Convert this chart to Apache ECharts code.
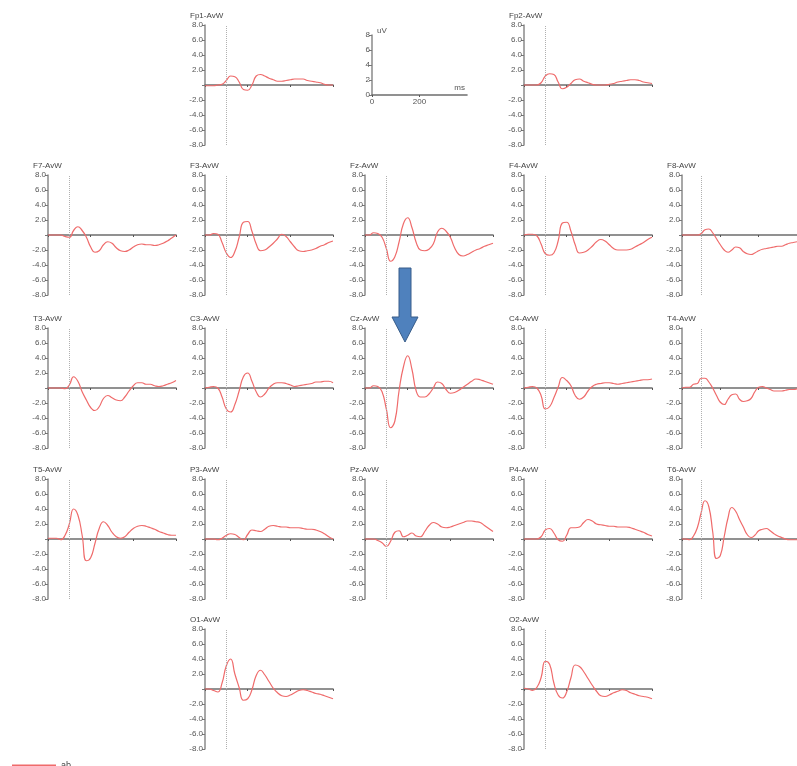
<!DOCTYPE html>
<html>
<head>
<meta charset="utf-8">
<script src="https://cdn.jsdelivr.net/npm/echarts/dist/echarts.min.js"></script>
<style>
html,body{margin:0;padding:0;background:#fff;}
#container{width:797px;height:766px;}
</style>
</head>
<body>
<div id="container"></div>
<script>
// time axis (ms), one value every 20 ms
const times = [-100,-80,-60,-40,-20,0,20,40,60,80,100,120,140,160,180,200,220,240,260,280,300,320,340,360,380,400,420,440,460,480,500];

// amplitudes (uV) per electrode
const fp1 = [-0.1,-0.1,-0.1,0,0.1,0.6,1.2,1.1,0.4,-0.6,-0.7,0,1.2,1.4,1.2,0.9,0.7,0.5,0.5,0.6,0.7,0.8,0.8,0.8,0.6,0.5,0.4,0.3,0.1,0,0];
const fp2 = [0,0,0,0,0.3,1.2,1.5,1.4,0.4,-0.5,-0.3,0.2,0.7,0.8,0.5,0.3,0.1,0,0,0,0.1,0.2,0.4,0.5,0.6,0.7,0.7,0.6,0.4,0.3,0.2];
const f7 = [0,0,0,0,-0.2,-0.3,0.6,1.1,0.6,-0.3,-1.6,-2.3,-2.1,-1.3,-0.9,-1.1,-1.7,-2.1,-2.2,-2.0,-1.6,-1.3,-1.2,-1.3,-1.3,-1.4,-1.3,-1.1,-0.8,-0.4,0];
const f3 = [0,0,0.2,0.1,-1.0,-2.4,-3.0,-2.2,-0.3,1.7,1.8,0.5,-1.2,-2.1,-2.0,-1.6,-1.1,-0.5,0.1,-0.2,-0.9,-1.6,-2.1,-2.2,-2.1,-2.0,-1.8,-1.5,-1.3,-1.0,-0.8];
const fz = [0,0,0.3,0.2,-0.3,-1.8,-3.5,-2.9,-0.9,1.5,2.3,1.0,-1.0,-2.0,-2.1,-1.9,-1.2,0.4,0.9,0.5,-0.3,-1.7,-2.6,-2.8,-2.6,-2.3,-2.0,-1.8,-1.5,-1.3,-1.1];
const f4 = [0,0.1,0.1,-0.1,-1.2,-2.5,-2.7,-2.4,-0.8,1.6,1.7,0.5,-1.3,-2.4,-2.3,-2.0,-1.5,-0.9,-0.6,-0.8,-1.3,-1.8,-2.0,-2.0,-2.0,-1.9,-1.6,-1.3,-1.0,-0.6,-0.3];
const f8 = [0,0,0,0,0,0.2,0.7,0.8,0.3,-0.5,-1.3,-2.0,-2.3,-2.0,-1.6,-1.7,-2.2,-2.5,-2.6,-2.4,-2.1,-1.9,-1.8,-1.7,-1.6,-1.5,-1.5,-1.3,-1.1,-1.0,-0.9];
const t3 = [0,0,0,0,-0.1,0.4,1.5,0.9,-0.5,-1.6,-2.6,-3.0,-2.5,-1.4,-1.0,-1.3,-1.6,-1.7,-1.2,-0.4,0.3,0.7,0.7,0.5,0.5,0.3,0.2,0.3,0.5,0.7,1.0];
const c3 = [0,0.1,0.2,0,-1.2,-2.8,-3.2,-2.2,-0.4,1.5,2.0,0.9,-0.5,-1.2,-0.8,0,0.5,0.7,0.7,0.6,0.4,0.2,0.3,0.4,0.5,0.6,0.8,0.8,0.9,0.9,0.7];
const cz = [0,0,0.3,0.2,-0.5,-2.8,-5.3,-4.4,-0.3,2.8,4.3,2.5,-0.4,-1.2,-1.2,-0.8,0,0.8,0.6,-0.2,-0.7,-0.6,-0.3,0.1,0.5,0.9,1.2,1.1,0.9,0.7,0.5];
const c4 = [0,0.1,0.2,0,-1.0,-2.8,-2.5,-1.3,0.1,1.4,1.0,0.3,-1.0,-1.5,-1.2,-0.4,0.2,0.5,0.6,0.7,0.7,0.6,0.5,0.6,0.7,0.8,0.9,1.0,1.1,1.1,1.2];
const t4 = [0,0.1,0.1,0.5,0.6,1.3,1.3,0.8,0,-1.0,-1.9,-2.2,-1.5,-0.9,-0.8,-1.5,-1.8,-1.7,-1.4,-0.5,0.1,0.2,0,-0.2,-0.4,-0.4,-0.4,-0.3,-0.2,-0.2,-0.1];
const t5 = [0.1,0.1,0.1,-0.1,0.5,2.0,4.0,3.2,0.5,-2.9,-2.5,-0.6,1.4,2.3,1.8,0.9,0.3,0.1,0.3,0.9,1.4,1.7,1.8,1.7,1.5,1.3,1.0,0.8,0.6,0.5,0.5];
const p3 = [0,0,0,-0.1,0.1,0.5,0.7,0.6,0.2,-0.1,0.6,1.2,1.1,1.0,1.3,1.7,1.8,1.7,1.6,1.6,1.5,1.5,1.5,1.4,1.3,1.3,1.2,1.0,0.7,0.3,0];
const pz = [0,0,0,-0.2,-0.5,-1.0,-0.3,0.9,1.1,0.3,0.5,0.8,0.4,0.3,1.0,1.8,2.2,2.0,1.6,1.5,1.6,1.8,2.0,2.2,2.4,2.4,2.3,2.2,1.8,1.4,1.0];
const p4 = [0,0,0,0,0.3,1.2,1.4,0.8,-0.1,-0.3,0.5,1.5,1.5,1.6,2.2,2.6,2.4,2.0,1.9,1.8,1.7,1.7,1.6,1.6,1.6,1.5,1.3,1.1,0.9,0.6,0.4];
const t6 = [0,0,-0.1,0.4,1.5,3.5,5.1,4.3,1.0,-2.6,-2.2,0.3,2.8,4.2,3.7,2.6,1.6,0.6,0.2,0.5,1.1,1.3,1.4,1.1,0.7,0.4,0.2,0,-0.1,-0.1,-0.1];
const o1 = [0,0,-0.2,-0.4,0.8,3.1,4.0,2.0,0.2,-1.5,-1.3,-0.1,1.8,2.5,1.9,1.0,0.1,-0.5,-0.9,-1.0,-0.8,-0.5,-0.2,-0.1,-0.2,-0.4,-0.6,-0.7,-0.9,-1.1,-1.3];
const o2 = [0.1,0,-0.2,0.2,1.5,3.7,3.3,0.8,-0.8,-1.2,-0.4,1.5,3.2,3.0,2.3,1.4,0.5,-0.3,-0.9,-1.0,-0.8,-0.5,-0.3,-0.1,-0.2,-0.5,-0.7,-0.9,-1.0,-1.1,-1.3];

const channels = [
  ['Fp1', fp1], ['Fp2', fp2],
  ['F7', f7], ['F3', f3], ['Fz', fz], ['F4', f4], ['F8', f8],
  ['T3', t3], ['C3', c3], ['Cz', cz], ['C4', c4], ['T4', t4],
  ['T5', t5], ['P3', p3], ['Pz', pz], ['P4', p4], ['T6', t6],
  ['O1', o1], ['O2', o2]
];
const yTicks = [-8, 8, 2];      // min, max, step (uV)
const xTicks = [-100, 500, 200]; // min, max, step (ms)
const scaleY = [0, 8, 2];
const scaleX = [0, 400, 200];
const seriesName = 'ab';

// panel placement (column, row) on the head layout
const place = {
  Fp1:[1,0], Fp2:[3,0],
  F7:[0,1], F3:[1,1], Fz:[2,1], F4:[3,1], F8:[4,1],
  T3:[0,2], C3:[1,2], Cz:[2,2], C4:[3,2], T4:[4,2],
  T5:[0,3], P3:[1,3], Pz:[2,3], P4:[3,3], T6:[4,3],
  O1:[1,4], O2:[3,4]
};
const colX = [48, 205, 365, 524, 682];
const rowY = [25, 175, 328, 479, 629];
const panelW = 128, panelH = 120;
const red = '#ef6b6b';

let grids = [], xAxes = [], yAxes = [], series = [], titles = [];
const labelStyle = {fontSize: 8, color: '#555', fontFamily: 'Liberation Sans, Arial, sans-serif'};

channels.forEach(([name, vals], i) => {
  const [c, r] = place[name];
  grids.push({left: colX[c], top: rowY[r], width: panelW, height: panelH, containLabel: false});
  xAxes.push({
    type: 'value', gridIndex: i, min: xTicks[0], max: xTicks[1], interval: xTicks[2],
    axisLine: {onZero: true, lineStyle: {color: '#6e6e6e', width: 1.6}},
    axisTick: {show: true, length: 2, lineStyle: {color: '#555'}},
    axisLabel: {show: false}, splitLine: {show: false}
  });
  yAxes.push({
    type: 'value', gridIndex: i, min: yTicks[0], max: yTicks[1], interval: yTicks[2],
    axisLine: {show: true, onZero: false, lineStyle: {color: '#8a8a8a', width: 1.5}},
    axisTick: {show: true, length: 3, lineStyle: {color: '#777'}},
    axisLabel: Object.assign({margin: 2, formatter: v => v === 0 ? '' : v.toFixed(1)}, labelStyle),
    splitLine: {show: false}
  });
  titles.push({
    text: name + '-AvW', left: colX[c] - 15, top: rowY[r] - 13, padding: 0,
    textStyle: {fontSize: 8, fontWeight: 'normal', color: '#444', fontFamily: 'Liberation Sans, Arial, sans-serif'}
  });
  series.push({
    name: seriesName, type: 'line', xAxisIndex: i, yAxisIndex: i,
    smooth: 0.5, showSymbol: false, symbol: 'none',
    lineStyle: {color: red, width: 1.2},
    itemStyle: {color: red},
    data: times.map((t, k) => [t, vals[k]]),
    markLine: {
      silent: true, symbol: 'none', label: {show: false},
      lineStyle: {type: 'dotted', color: '#b0b0b0', width: 1},
      data: [{xAxis: 0}]
    }
  });
});

// amplitude / time scale panel
const si = channels.length;
grids.push({left: 372, top: 35, width: 95, height: 60, containLabel: false});
xAxes.push({
  type: 'value', gridIndex: si, min: scaleX[0], max: scaleX[1], interval: scaleX[2],
  name: 'ms', nameLocation: 'end', nameGap: -2,
  nameTextStyle: Object.assign({align: 'right', verticalAlign: 'bottom', padding: [0, 0, 3, 0]}, labelStyle),
  axisLine: {lineStyle: {color: '#6e6e6e', width: 1.6}},
  axisTick: {length: 2, lineStyle: {color: '#555'}},
  axisLabel: Object.assign({margin: 3, showMaxLabel: false}, labelStyle),
  splitLine: {show: false}
});
yAxes.push({
  type: 'value', gridIndex: si, min: scaleY[0], max: scaleY[1], interval: scaleY[2],
  name: 'uV', nameLocation: 'end', nameGap: 0,
  nameTextStyle: Object.assign({align: 'left', verticalAlign: 'bottom', padding: [0, 0, 0, 5]}, labelStyle),
  axisLine: {show: true, lineStyle: {color: '#8a8a8a', width: 1.5}},
  axisTick: {show: true, length: 3, lineStyle: {color: '#777'}},
  axisLabel: Object.assign({margin: 2}, labelStyle),
  splitLine: {show: false}
});
series.push({name: 'scale', type: 'line', xAxisIndex: si, yAxisIndex: si, data: [], silent: true});

const option = {
  animation: false,
  backgroundColor: '#fff',
  title: titles,
  legend: {
    data: [{name: seriesName, icon: 'rect', itemStyle: {color: red}}],
    left: 7, top: 756, itemWidth: 44, itemHeight: 2, itemGap: 4,
    textStyle: {fontSize: 9, color: '#444'}
  },
  grid: grids,
  xAxis: xAxes,
  yAxis: yAxes,
  series: series,
  graphic: [{
    type: 'polygon', silent: true,
    shape: {points: [[399,268],[411,268],[411,317],[418,317],[405,342],[392,317],[399,317]]},
    style: {fill: '#4f81bd', stroke: '#385d8a', lineWidth: 1}
  }]
};

let myChart = echarts.init(document.getElementById('container'));
myChart.setOption(option);
</script>
</body>
</html>
